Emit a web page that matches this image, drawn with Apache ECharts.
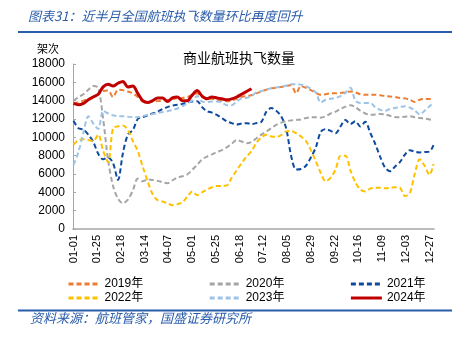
<!DOCTYPE html>
<html><head><meta charset="utf-8">
<script src="https://cdn.jsdelivr.net/npm/echarts@6/dist/echarts.min.js"></script>
<style>html,body{margin:0;padding:0;background:#fff}#c{width:459px;height:338px}</style>
</head><body><div id="c"></div>
<script>
// Sample days (day-of-year index, 0 = 01-01) at which values were read
const sampleDays = [0,5,10,15,20,25,30,35,40,45,50,55,60,65,70,75,80,85,90,95,100,105,110,115,120,125,130,135,140,145,150,155,160,165,170,175,180,185,190,195,200,205,210,215,220,225,230,235,240,245,250,255,260,265,270,275,280,285,290,295,300,305,310,315,320,325,330,335,340,345,350,355,360,364];

const yearNames = ['2019年','2020年','2021年','2022年','2023年','2024年'];

const v2019 = [13750,13800,14000,14200,14400,14700,15050,15100,14400,15200,
  15150,15000,14800,14400,13900,13850,13900,13950,14000,14100,
  14200,14250,14300,14400,14600,14800,14400,14250,14200,14100,
  14000,13950,14000,14200,14400,14500,14600,14800,15000,15200,
  15350,15400,15500,15600,15700,14800,15600,15400,15150,14850,
  14650,14700,14800,14800,14850,14900,15000,14900,14700,14640,
  14640,14640,14600,14500,14450,14400,14300,14250,14100,13850,
  14100,14200,14180,14180];

const v2020 = [14000,14400,14700,15200,15600,15400,12000,7500,4700,3300,
  2800,3200,4200,5500,5200,5400,5350,5250,5100,5000,
  5300,5600,5750,5950,6450,7000,7600,7900,8150,8400,
  8600,8900,9300,9700,9550,9350,9500,9900,10300,10640,
  11000,11350,11600,11750,11850,11900,11950,12100,12200,12200,
  12150,12300,12600,12800,13100,13350,13500,13300,12900,12600,
  12460,12480,12550,12500,12350,12220,12200,12250,12300,12200,
  12100,12050,11950,11900];

const v2021 = [11800,11000,10850,10300,9500,8200,7600,7800,7200,5350,
  8300,10300,10800,12000,12200,12400,12600,12800,13100,13300,
  13450,13550,13650,13800,13900,13950,13300,12850,12700,12450,
  12100,11750,11550,11400,11500,11550,11450,11560,11700,12800,
  13200,12900,12300,11000,8000,6500,6550,6900,7800,8900,
  10600,10900,10700,10450,11200,11900,11450,11750,11190,11700,
  10500,9300,7900,6700,6300,6800,7300,8100,8600,8450,
  8350,8400,8450,9150];

const v2022 = [9200,9700,9800,9700,9600,10300,8500,7300,11000,11200,
  11300,10800,9600,8500,6800,5200,3800,3150,3000,2800,
  2600,2700,2900,3500,4100,3700,4000,4300,4550,4700,
  4700,4750,5600,6400,7200,7900,8500,9400,10000,10280,
  10100,10050,10250,10650,10700,10450,10100,9600,8600,7400,
  6100,5200,5600,6500,8000,8000,6400,5100,4300,4100,
  4400,4500,4500,4450,4500,4550,4500,3600,3900,6000,
  7600,6900,5900,7100];

const v2023 = [7000,8400,10500,12300,11500,10900,12900,12600,12400,12300,
  12300,12250,12200,12200,12300,12450,12550,12650,12750,12850,
  13000,13150,13400,13700,14000,14500,13900,13850,13900,13900,
  13800,13500,13500,13900,14250,14300,14500,14900,15050,15200,
  15350,15450,15500,15650,15780,15800,15750,15600,15300,14900,
  13800,14100,14200,14300,14500,14850,15400,14000,13750,13750,
  13750,13300,13000,12900,13100,13200,13300,13400,13250,12950,
  12500,12900,13400,13750];

const v2024 = [13700,13550,13700,14100,14400,14700,15500,15800,15600,15900,
  16100,15500,15600,14800,14000,13800,14000,14300,14300,13900,
  14300,14400,14000,14000,14600,15100,14500,14200,14400,14300,
  14200,14100,14200,14400,14700,15000,15300];

const yTicks = [0,2000,4000,6000,8000,10000,12000,14000,16000,18000];

// Day categories for a 365-day year (MM-DD)
const monthLengths = [31,28,31,30,31,30,31,31,30,31,30,31];
const categories = [];
monthLengths.forEach((len, m) => {
  for (let d = 1; d <= len; d++) {
    categories.push(String(m + 1).padStart(2, '0') + '-' + String(d).padStart(2, '0'));
  }
});

const colors = ['#ED7D31', '#A5A5A5', '#0E4A9E', '#FFC000', '#9DC3E6', '#C00000'];
const allValues = [v2019, v2020, v2021, v2022, v2023, v2024];

const FONT = "'Liberation Sans', Arial, 'Noto Sans CJK SC', sans-serif";
const CJK = "'Noto Sans CJK SC', sans-serif";

const series = allValues.map((vals, k) => ({
  name: yearNames[k],
  type: 'line',
  symbol: 'none',
  smooth: 0.3,
  z: k === 5 ? 10 : 2 + k,
  data: vals.map((v, i) => [sampleDays[i], v]),
  lineStyle: k === 5
    ? { color: colors[k], width: 3, type: 'solid' }
    : { color: colors[k], width: 2, type: [5, 3] },
  itemStyle: { color: colors[k] }
}));

const chart = echarts.init(document.getElementById('c'), null, { renderer: 'canvas' });
const legendBase = {
  itemWidth: 31, itemHeight: 10, itemGap: 65, left: 62,
  textStyle: { fontSize: 12, color: '#000', fontFamily: FONT },
  lineStyle: { width: 3 },
  itemStyle: { opacity: 0 },
  selectedMode: false
};
chart.setOption({
  animation: false,
  backgroundColor: '#fff',
  title: {
    text: '商业航班执飞数量', left: 178, top: 46,
    textStyle: { fontSize: 14, fontWeight: 'normal', color: '#000', fontFamily: CJK }
  },
  legend: [
    Object.assign({}, legendBase, { top: 273, data: yearNames.slice(0, 3) }),
    Object.assign({}, legendBase, { top: 287, data: yearNames.slice(3, 6) })
  ],
  grid: { left: 73, right: 25, top: 64, bottom: 109, containLabel: false },
  xAxis: {
    type: 'category',
    data: categories,
    boundaryGap: true,
    axisLine: { lineStyle: { color: '#A6A6A6', width: 1.5 } },
    axisTick: { show: false },
    axisLabel: {
      interval: 23, rotate: 90, fontSize: 11, color: '#000', margin: 6, fontFamily: FONT
    }
  },
  yAxis: {
    type: 'value', min: yTicks[0], max: yTicks[yTicks.length - 1], interval: 2000,
    axisLine: { show: true, lineStyle: { color: '#A6A6A6' } },
    axisTick: { show: true, inside: true, length: 3, lineStyle: { color: '#A6A6A6' } },
    splitLine: { show: false },
    axisLabel: { fontSize: 12, color: '#000', margin: 8, fontFamily: FONT,
      formatter: v => String(v) }
  },
  graphic: [
    { type: 'text', left: 28, top: 10,
      style: { text: '图表31：近半月全国航班执飞数量环比再度回升', font: 'italic 13px ' + CJK, fill: '#2A5CAA' } },
    { type: 'rect', shape: { x: 18, y: 31, width: 434, height: 2 }, style: { fill: '#2A5CAA' } },
    { type: 'text', left: 37, top: 43,
      style: { text: '架次', font: '11px ' + CJK, fill: '#000' } },
    { type: 'rect', shape: { x: 18, y: 309.5, width: 434, height: 2 }, style: { fill: '#2A5CAA' } },
    { type: 'text', left: 30, top: 312,
      style: { text: '资料来源：航班管家，国盛证券研究所', font: 'italic 13px ' + CJK, fill: '#2A5CAA' } }
  ],
  series: series
});
</script>
</body></html>
